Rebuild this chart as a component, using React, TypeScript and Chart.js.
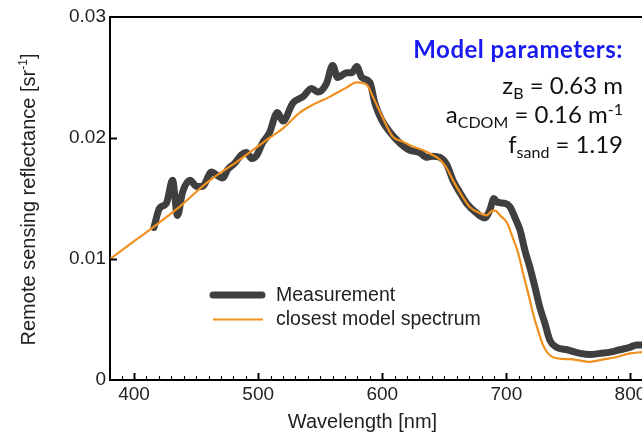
import React, { useEffect, useRef } from "react";
import { Chart, registerables } from "chart.js";

Chart.register(...registerables);

// ---- data ----
const measWavelengths = [
  416, 420.5, 426, 431, 435, 439, 445, 450.5, 455, 462.5, 467, 471.5, 475.5, 481, 486.5, 490.5,
  495, 499, 503.5, 509, 515.5, 520, 528, 536, 543, 548, 555, 560, 564, 571.5, 575.5, 579.5,
  583.5, 590, 594, 599.5, 606, 614, 622, 630, 636, 640.5, 646.5, 652, 657, 662.5, 668, 676,
  682.5, 686.5, 690, 692.5, 699, 703, 707, 711, 715, 719, 723, 727, 731, 735, 740.5, 749,
  759.5, 767.5, 775.5, 783.5, 791.5, 799.5, 805, 809.5,
];
const measValues = [
  0.0126, 0.0142, 0.0146, 0.0165, 0.0136, 0.0155, 0.0165, 0.016, 0.016, 0.0172, 0.0169, 0.0167,
  0.0174, 0.0179, 0.0186, 0.0188, 0.0183, 0.0186, 0.0196, 0.0204, 0.0221, 0.0214, 0.0229, 0.0234,
  0.0241, 0.0238, 0.0245, 0.026, 0.025, 0.0254, 0.0254, 0.0259, 0.025, 0.0246, 0.0229, 0.0215,
  0.0205, 0.0196, 0.019, 0.0188, 0.0184, 0.0185, 0.0184, 0.0178, 0.0165, 0.0155, 0.0146, 0.0138,
  0.0134, 0.014, 0.015, 0.0147, 0.0146, 0.0143, 0.0134, 0.0124, 0.0107, 0.0093, 0.0077, 0.006,
  0.0047, 0.0033, 0.0027, 0.0025, 0.0022, 0.0021, 0.0022, 0.0023, 0.0025, 0.0027, 0.0029, 0.0029,
];
const modelWavelengths = [
  380.6, 396.5, 415, 436.5, 458.5, 485, 501, 509, 520, 533.5, 545, 557.5, 570, 579.5, 587.5,
  592.5, 598, 603.5, 608.5, 616.5, 624.5, 632.5, 640.5, 646.5, 652, 657, 665, 670.5, 678.5, 684,
  689, 691, 695, 700.5, 705, 709.5, 713.5, 717.5, 721.5, 725.5, 729.5, 733.5, 740.5, 753.5,
  767.5, 778, 789, 799.5, 809.5,
];
const modelValues = [
  0.01, 0.0112, 0.0126, 0.0143, 0.0163, 0.0182, 0.0194, 0.02, 0.0208, 0.0221, 0.0228, 0.0234,
  0.0241, 0.0246, 0.0244, 0.0234, 0.0222, 0.021, 0.0201, 0.0197, 0.0193, 0.019, 0.0186, 0.0182,
  0.0175, 0.0165, 0.0151, 0.0143, 0.0138, 0.0136, 0.014, 0.014, 0.0136, 0.013, 0.0118, 0.0105,
  0.0088, 0.0072, 0.0055, 0.0041, 0.0029, 0.0022, 0.0018, 0.0017, 0.0015, 0.0017, 0.0019, 0.0022,
  0.0023,
];
const seriesLabels = ["Measurement", "closest model spectrum"];
const xTickValues = [400, 500, 600, 700, 800];
const yTickValues = [0, 0.01, 0.02, 0.03];
const xMin = 380.6;
const xMax = 809.3;
const xTitle = "Wavelength [nm]";
const yTitleRuns: [string, string][] = [["Remote sensing reflectance [sr", "n"], ["-1", "sup"], ["]", "n"]];
const paramTitle = "Model parameters:";
const paramLines: [string, string][][] = [
  [["z", "n"], ["B", "sub"], [" = 0.63 m", "n"]],
  [["a", "n"], ["CDOM", "sub"], [" = 0.16 m", "n"], ["-1", "sup"]],
  [["f", "n"], ["sand", "sub"], [" = 1.19", "n"]],
];

const ARIAL = '"Liberation Sans", Arial, sans-serif';
const CAL = 'Lato, "Open Sans", sans-serif';

function drawRuns(
  ctx: CanvasRenderingContext2D,
  runs: [string, string][],
  x: number,
  y: number,
  size: number,
  family: string,
  align: "right" | "center",
  subOff: number,
  supOff: number,
  smallRatio: number
) {
  const fontFor = (k: string) => (k === "n" ? `${size}px ${family}` : `${Math.round(size * smallRatio)}px ${family}`);
  const widths = runs.map(([t, k]) => {
    ctx.font = fontFor(k);
    return ctx.measureText(t).width;
  });
  const total = widths.reduce((a, b) => a + b, 0);
  let cx = align === "right" ? x - total : x - total / 2;
  ctx.textAlign = "left";
  ctx.textBaseline = "alphabetic";
  runs.forEach(([t, k], i) => {
    ctx.font = fontFor(k);
    const dy = k === "sub" ? subOff : k === "sup" ? -supOff : 0;
    ctx.fillText(t, cx, y + dy);
    cx += widths[i];
  });
}

const decorPlugin = {
  id: "decor",
  afterDraw(chart: any) {
    const ctx: CanvasRenderingContext2D = chart.ctx;
    const { left, right, top, bottom } = chart.chartArea;
    const xs = chart.scales.x;
    const ys = chart.scales.y;
    ctx.save();
    ctx.strokeStyle = "#000";
    // top frame line
    ctx.lineWidth = 2;
    ctx.beginPath();
    ctx.moveTo(left - 1, top);
    ctx.lineTo(right, top);
    ctx.stroke();
    // inward x ticks (major every 100, minor every 10)
    for (let v = 390; v <= 810; v += 10) {
      if (v < xs.min || v > xs.max) continue;
      const px = Math.round(xs.getPixelForValue(v)) + 0.5;
      const major = v % 100 === 0;
      ctx.lineWidth = major ? 2 : 1.1;
      ctx.beginPath();
      ctx.moveTo(px, bottom);
      ctx.lineTo(px, bottom - (major ? 7 : 4));
      ctx.stroke();
    }
    // inward y ticks
    yTickValues.forEach((v) => {
      if (v <= 0 || v >= 0.03) return;
      const py = Math.round(ys.getPixelForValue(v)) + 0.5;
      ctx.lineWidth = 2;
      ctx.beginPath();
      ctx.moveTo(left, py);
      ctx.lineTo(left + 7, py);
      ctx.stroke();
    });

    // legend
    const ds = chart.data.datasets;
    ctx.lineCap = "round";
    ctx.strokeStyle = ds[0].borderColor;
    ctx.lineWidth = ds[0].borderWidth;
    ctx.beginPath();
    ctx.moveTo(213, 295);
    ctx.lineTo(262, 295);
    ctx.stroke();
    ctx.lineCap = "butt";
    ctx.strokeStyle = ds[1].borderColor;
    ctx.lineWidth = ds[1].borderWidth;
    ctx.beginPath();
    ctx.moveTo(213, 319.5);
    ctx.lineTo(263, 319.5);
    ctx.stroke();
    ctx.fillStyle = "#222";
    ctx.font = `19.5px ${ARIAL}`;
    ctx.textAlign = "left";
    ctx.textBaseline = "alphabetic";
    ctx.fillText(ds[0].label, 276, 301);
    ctx.fillText(ds[1].label, 276, 325);

    // axis titles
    ctx.fillStyle = "#222";
    ctx.font = `20px ${ARIAL}`;
    ctx.textAlign = "center";
    ctx.fillText(xTitle, 362.5, 428);
    ctx.save();
    ctx.translate(34.5, (top + bottom) / 2 + 1);
    ctx.rotate(-Math.PI / 2);
    drawRuns(ctx, yTitleRuns, 0, 0, 20, ARIAL, "center", 0, 8, 0.62);
    ctx.restore();

    // model parameters box
    ctx.fillStyle = "#1a1af0";
    ctx.font = `bold 24px ${CAL}`;
    ctx.textAlign = "right";
    (ctx as any).letterSpacing = "0.5px";
    ctx.fillText(paramTitle, 623, 58);
    (ctx as any).letterSpacing = "0px";
    ctx.fillStyle = "#111";
    const baselines = [94, 123, 153];
    paramLines.forEach((runs, i) => {
      drawRuns(ctx, runs, 623, baselines[i], 24, CAL, "right", 5, 8, 0.66);
    });
    ctx.restore();
  },
};

export default function App() {
  const ref = useRef<HTMLCanvasElement | null>(null);
  useEffect(() => {
    if (!ref.current) return;
    const chart = new Chart(ref.current, {
      type: "line",
      data: {
        datasets: [
          {
            label: seriesLabels[0],
            data: measWavelengths.map((w, i) => ({ x: w, y: measValues[i] })),
            borderColor: "#3f3f3f",
            borderWidth: 7,
            pointRadius: 0,
            cubicInterpolationMode: "monotone",
            borderJoinStyle: "round",
            borderCapStyle: "round",
            fill: false,
            order: 1,
          },
          {
            label: seriesLabels[1],
            data: modelWavelengths.map((w, i) => ({ x: w, y: modelValues[i] })),
            borderColor: "#f0901f",
            borderWidth: 2.2,
            pointRadius: 0,
            cubicInterpolationMode: "monotone",
            fill: false,
            order: 0,
          },
        ],
      },
      options: {
        responsive: false,
        animation: false,
        devicePixelRatio: 1,
        events: [],
        layout: { padding: { top: 17, left: 0, right: 0, bottom: 0 } },
        plugins: { legend: { display: false }, tooltip: { enabled: false } },
        scales: {
          x: {
            type: "linear",
            min: xMin,
            max: xMax,
            grid: { display: false, drawTicks: false },
            border: { display: true, color: "#000", width: 2 },
            ticks: {
              font: { family: ARIAL, size: 19 },
              color: "#222",
              padding: 3,
              maxRotation: 0,
              autoSkip: false,
              callback: (v: any) => String(v),
            },
            afterBuildTicks: (s: any) => {
              s.ticks = xTickValues.map((value) => ({ value }));
            },
            afterFit: (s: any) => {
              s.height = 54;
              s.paddingLeft = 0;
              s.paddingRight = 0;
            },
          },
          y: {
            type: "linear",
            min: 0,
            max: 0.03,
            grid: { display: false, drawTicks: false },
            border: { display: true, color: "#000", width: 2 },
            ticks: {
              font: { family: ARIAL, size: 19 },
              color: "#222",
              padding: 4,
              autoSkip: false,
              callback: (v: any) => (Number(v) === 0 ? "0" : Number(v).toFixed(2)),
            },
            afterBuildTicks: (s: any) => {
              s.ticks = yTickValues.map((value) => ({ value }));
            },
            afterFit: (s: any) => {
              s.width = 110;
              s.paddingTop = 0;
              s.paddingBottom = 0;
            },
          },
        },
      },
      plugins: [decorPlugin],
    } as any);
    const fonts: any = (document as any).fonts;
    if (fonts && fonts.load) {
      Promise.all([fonts.load(`bold 24px Lato`), fonts.load(`24px Lato`)]).then(() => {
        if ((chart as any).ctx) chart.draw();
      });
    }
    return () => chart.destroy();
  }, []);
  return (
    <div style={{ position: "absolute", left: 0, top: 0, width: 642, height: 434, background: "#fff" }}>
      <canvas ref={ref} width={642} height={434} style={{ display: "block", width: 642, height: 434 }} />
    </div>
  );
}
